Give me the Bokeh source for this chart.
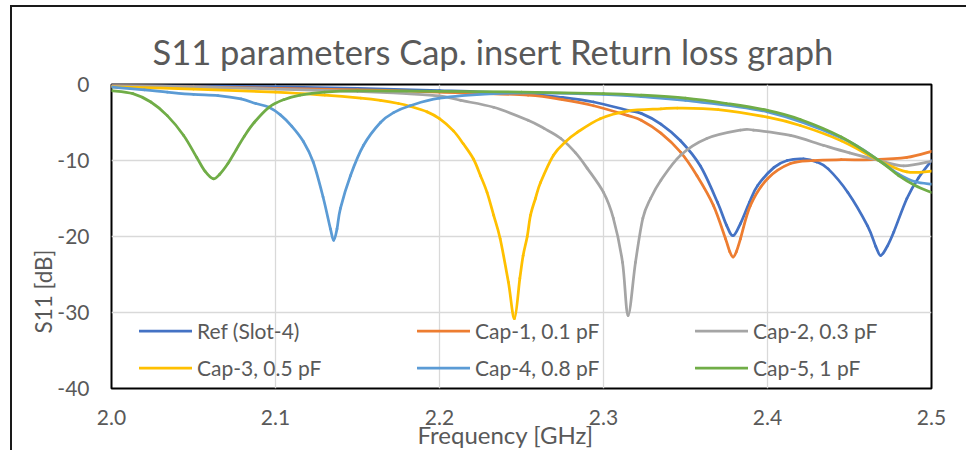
from bokeh.plotting import figure
from bokeh.models import Legend, LegendItem, Title, FixedTicker
from bokeh.embed import file_html
from bokeh.resources import INLINE

# ---------------- data ----------------
x_ticks = [2.0, 2.1, 2.2, 2.3, 2.4, 2.5]
x_tick_labels = ["2.0", "2.1", "2.2", "2.3", "2.4", "2.5"]
y_ticks = [0, -10, -20, -30, -40]
y_tick_labels = ["0", "-10", "-20", "-30", "-40"]

series_names = ["Ref (Slot-4)", "Cap-1, 0.1 pF", "Cap-2, 0.3 pF",
                "Cap-3, 0.5 pF", "Cap-4, 0.8 pF", "Cap-5, 1 pF"]
series_colors = ["#4472C4", "#ED7D31", "#A5A5A5", "#FFC000", "#5B9BD5", "#70AD47"]

ref_f = [2.000, 2.050, 2.100, 2.150, 2.200, 2.250, 2.275, 2.294, 2.315, 2.323, 2.335, 2.347,
         2.359, 2.3695, 2.375, 2.379, 2.3835, 2.389, 2.394, 2.404, 2.412, 2.422, 2.430, 2.437,
         2.449, 2.461, 2.466, 2.469, 2.473, 2.477, 2.485, 2.492, 2.500]
ref_db = [-0.1, -0.2, -0.3, -0.5, -0.8, -1.2, -1.7, -2.3, -3.4, -3.8, -5.2, -7.4,
          -10.7, -15.5, -18.5, -19.9, -18.3, -15.5, -13.3, -10.9, -10.0, -9.8, -10.2, -11.1,
          -14.2, -18.6, -21.3, -22.5, -21.3, -19.4, -15.0, -12.3, -10.0]

cap1_f = [2.000, 2.050, 2.100, 2.150, 2.200, 2.254, 2.275, 2.294, 2.315, 2.323, 2.335, 2.347,
          2.357, 2.367, 2.3744, 2.377, 2.379, 2.381, 2.3835, 2.3896, 2.400, 2.414, 2.428,
          2.445, 2.465, 2.485, 2.500]
cap1_db = [-0.1, -0.3, -0.5, -0.7, -1.0, -1.4, -2.0, -2.8, -4.1, -4.7, -6.4, -8.9,
           -12.0, -15.9, -20.3, -22.0, -22.7, -22.0, -20.3, -15.9, -12.4, -10.4, -10.0,
           -9.9, -9.9, -9.6, -8.8]

cap2_f = [2.000, 2.050, 2.100, 2.150, 2.180, 2.200, 2.213, 2.233, 2.254, 2.264, 2.274, 2.283,
          2.290, 2.300, 2.306, 2.3116, 2.315, 2.3195, 2.324, 2.3287, 2.335, 2.347, 2.363,
          2.3835, 2.3915, 2.414, 2.434, 2.450, 2.468, 2.483, 2.500]
cap2_db = [-0.1, -0.3, -0.6, -0.9, -1.2, -1.5, -2.1, -3.0, -4.7, -5.8, -7.1, -9.0,
           -11.0, -14.2, -17.6, -23.4, -30.4, -23.4, -17.6, -15.0, -12.6, -9.3, -7.1,
           -6.0, -6.0, -6.7, -8.0, -9.0, -10.0, -10.7, -10.1]

cap3_f = [2.000, 2.050, 2.100, 2.130, 2.152, 2.164, 2.175, 2.1825, 2.1925, 2.200, 2.2085,
          2.2145, 2.2207, 2.225, 2.229, 2.233, 2.237, 2.242, 2.2457, 2.249, 2.251, 2.2535,
          2.2555, 2.2585, 2.2616, 2.2695, 2.277, 2.284, 2.298, 2.3146, 2.335, 2.345, 2.370,
          2.400, 2.420, 2.445, 2.468, 2.485, 2.500]
cap3_db = [-0.3, -0.6, -1.0, -1.4, -1.8, -2.1, -2.5, -2.9, -3.6, -4.5, -6.1,
           -7.8, -9.8, -12.0, -14.2, -17.2, -20.3, -26.0, -30.8, -25.5, -22.5, -20.0,
           -17.2, -15.0, -12.9, -9.3, -7.5, -6.3, -4.5, -3.5, -3.2, -3.1, -3.3,
           -4.3, -5.4, -7.4, -10.0, -11.5, -11.4]

cap4_f = [2.000, 2.020, 2.034, 2.050, 2.065, 2.079, 2.088, 2.096, 2.103, 2.110, 2.117, 2.123,
          2.129, 2.1335, 2.1355, 2.1375, 2.1396, 2.1457, 2.1537, 2.164, 2.172, 2.182, 2.200,
          2.233, 2.260, 2.300, 2.323, 2.350, 2.400, 2.445, 2.468, 2.480, 2.490, 2.500]
cap4_db = [-0.35, -0.7, -1.0, -1.3, -1.45, -1.9, -2.5, -3.0, -4.0, -5.5, -7.5, -10.2,
           -14.8, -19.0, -20.5, -19.0, -16.3, -12.0, -8.0, -5.0, -3.7, -2.8, -1.8,
           -1.2, -1.1, -1.3, -1.6, -2.1, -3.6, -7.0, -10.0, -11.8, -12.8, -13.1]

cap5_f = [2.000, 2.013, 2.024, 2.034, 2.044, 2.052, 2.057, 2.062, 2.066, 2.071, 2.076, 2.081,
          2.087, 2.096, 2.105, 2.115, 2.130, 2.150, 2.200, 2.250, 2.300, 2.323, 2.350, 2.375,
          2.400, 2.420, 2.445, 2.468, 2.480, 2.490, 2.500]
cap5_db = [-0.8, -1.2, -2.3, -4.1, -6.7, -9.6, -11.4, -12.4, -11.8, -10.4, -8.6, -6.8,
           -5.0, -3.0, -2.0, -1.4, -1.0, -0.85, -0.9, -1.0, -1.2, -1.4, -1.8, -2.5,
           -3.4, -4.6, -6.9, -10.0, -12.0, -13.3, -14.2]

all_f = [ref_f, cap1_f, cap2_f, cap3_f, cap4_f, cap5_f]
all_db = [ref_db, cap1_db, cap2_db, cap3_db, cap4_db, cap5_db]

# legend is filled column by column: order so that rows read like the reference
legend_order = [0, 3, 1, 4, 2, 5]

# ---------------- layout ----------------
W, H = 956, 445
B_LEFT, B_RIGHT, B_TOP, B_BOTTOM = 99, 37, 77, 64
X0, X1 = 2.0, 2.5
Y0, Y1 = -40, 0

TEXT = "#595959"
FONT = "Lato"
TICK_SIZE = "21px"


def smooth_segments(f, d):
    """Excel-like smoothed line: cubic Bezier segments through the points."""
    n = len(f)
    x0, y0, x1, y1, cx0, cy0, cx1, cy1 = ([] for _ in range(8))
    for i in range(n - 1):
        im = i - 1 if i > 0 else i
        ip = i + 2 if i + 2 < n else i + 1
        a_x = f[i] + (f[i + 1] - f[im]) / 6.0
        a_y = d[i] + (d[i + 1] - d[im]) / 6.0
        b_x = f[i + 1] - (f[ip] - f[i]) / 6.0
        b_y = d[i + 1] - (d[ip] - d[i]) / 6.0
        a_x = min(max(a_x, f[i]), f[i + 1])
        b_x = min(max(b_x, f[i]), f[i + 1])
        x0.append(f[i]); y0.append(d[i]); x1.append(f[i + 1]); y1.append(d[i + 1])
        cx0.append(a_x); cy0.append(a_y); cx1.append(b_x); cy1.append(b_y)
    return dict(x0=x0, y0=y0, x1=x1, y1=y1, cx0=cx0, cy0=cy0, cx1=cx1, cy1=cy1)


p = figure(width=W, height=H, x_range=(X0, X1), y_range=(Y0, Y1),
           output_backend="svg", toolbar_location=None,
           min_border_left=B_LEFT, min_border_right=B_RIGHT,
           min_border_top=B_TOP, min_border_bottom=B_BOTTOM,
           margin=(5, 0, 0, 10),
           styles={"border-left": "2px solid #1a1a1a", "border-top": "2px solid #1a1a1a"})

p.outline_line_color = "black"
p.outline_line_width = 2
p.background_fill_color = "white"
p.border_fill_color = "white"

p.title.text = "S11 parameters Cap. insert Return loss graph"
p.title.text_font = FONT
p.title.text_font_size = "34.5px"
p.title.text_font_style = "normal"
p.title.text_color = TEXT
p.title.align = "left"
p.title.offset = 41
p.title.standoff = 26

p.xaxis.ticker = FixedTicker(ticks=x_ticks)
p.yaxis.ticker = FixedTicker(ticks=y_ticks)
p.xaxis.major_label_overrides = {t: l for t, l in zip(x_ticks, x_tick_labels)}
p.yaxis.major_label_overrides = {t: l for t, l in zip(y_ticks, y_tick_labels)}
for ax in (p.xaxis, p.yaxis):
    ax.axis_line_color = None
    ax.major_tick_line_color = None
    ax.minor_tick_line_color = None
    ax.major_tick_out = 0
    ax.major_tick_in = 0
    ax.major_label_text_font = FONT
    ax.major_label_text_font_size = TICK_SIZE
    ax.major_label_text_color = TEXT
p.xaxis.major_label_standoff = 21
p.yaxis.major_label_standoff = 22

p.xgrid.grid_line_color = "#D9D9D9"
p.ygrid.grid_line_color = "#D9D9D9"
p.xgrid.grid_line_width = 1.3
p.ygrid.grid_line_width = 1.3

renderers = []
for f, db, c in zip(all_f, all_db, series_colors):
    r = p.bezier(source=smooth_segments(f, db), x0="x0", y0="y0", x1="x1", y1="y1",
                 cx0="cx0", cy0="cy0", cx1="cx1", cy1="cy1",
                 line_color=c, line_width=2.75, line_cap="round")
    renderers.append(r)

legend = Legend(items=[LegendItem(label=series_names[i], renderers=[renderers[i]]) for i in legend_order],
                ncols=3, location=(28, 2), glyph_width=53, glyph_height=37,
                label_height=37, label_width=220, label_standoff=5, spacing=0,
                padding=0, margin=0, border_line_color=None, background_fill_alpha=0,
                label_text_font=FONT, label_text_font_size=TICK_SIZE, label_text_color=TEXT)
p.add_layout(legend)

# axis titles (placed like the reference: not centred on the plot area)
x_title = Title(text="Frequency [GHz]", align="left", offset=306, vertical_align="top",
                standoff=-15, text_font=FONT, text_font_size="24px",
                text_font_style="normal", text_color=TEXT)
p.add_layout(x_title, "below")
y_title = Title(text="S11 [dB]", align="left", offset=55, vertical_align="bottom",
                standoff=-4, text_font=FONT, text_font_size="22.5px",
                text_font_style="normal", text_color=TEXT)
p.add_layout(y_title, "left")

open("out.html", "w").write(file_html(p, INLINE))
